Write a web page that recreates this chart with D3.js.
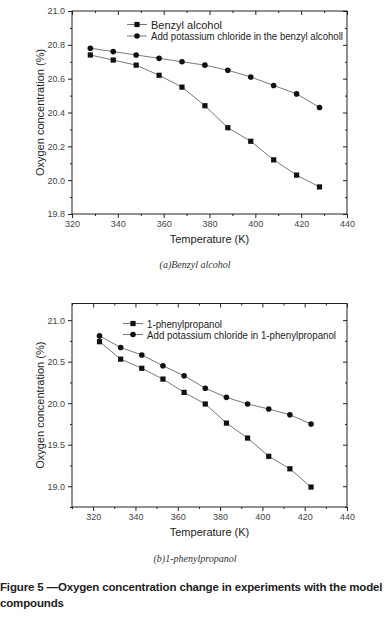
<!DOCTYPE html>
<html>
<head>
<meta charset="utf-8">
<script src="https://cdn.jsdelivr.net/npm/d3@7"></script>
<style>
  body { margin: 0; background: #fff; }
  svg { display: block; }
  text { font-family: "Liberation Sans", Arial, sans-serif; }
  .tick-label { font-size: 9px; fill: #444; }
  .axis-label { font-size: 11px; fill: #222; }
  .legend-text { font-size: 10.5px; fill: #222; }
  .caption { font-family: "Liberation Serif", "DejaVu Serif", serif; font-style: italic; font-size: 10px; fill: #333; }
  .fig-title { font-size: 11.5px; letter-spacing: -0.15px; font-weight: bold; fill: #222; }
</style>
</head>
<body>
<svg width="386" height="621"></svg>
<script>
// (a) benzyl alcohol
const tempA = [328, 338, 348, 358, 368, 378, 388, 398, 408, 418, 428];
const benzyl = [20.74, 20.71, 20.68, 20.62, 20.55, 20.44, 20.31, 20.23, 20.12, 20.03, 19.96];
const benzylKCl = [20.78, 20.76, 20.74, 20.72, 20.70, 20.68, 20.65, 20.61, 20.56, 20.51, 20.43];
const yTicksA = [19.8, 20.0, 20.2, 20.4, 20.6, 20.8, 21.0];
const xTicksA = [320, 340, 360, 380, 400, 420, 440];

// (b) 1-phenylpropanol
const tempB = [323, 333, 343, 353, 363, 373, 383, 393, 403, 413, 423];
const phenyl = [20.74, 20.53, 20.42, 20.29, 20.13, 19.99, 19.76, 19.58, 19.36, 19.21, 18.99];
const phenylKCl = [20.81, 20.67, 20.58, 20.45, 20.33, 20.18, 20.07, 19.99, 19.93, 19.86, 19.75];
const yTicksB = [19.0, 19.5, 20.0, 20.5, 21.0];
const xTicksB = [320, 340, 360, 380, 400, 420, 440];

const svg = d3.select('svg');

function drawPanel(opt) {
    const x = d3.scaleLinear().domain(opt.xDomain).range([opt.left, opt.right]);
    const y = d3.scaleLinear().domain(opt.yDomain).range([opt.bottom, opt.top]);
    const g = svg.append('g');
    const axisColor = '#222';

    // frame
    g.append('rect')
        .attr('x', opt.left).attr('y', opt.top)
        .attr('width', opt.right - opt.left).attr('height', opt.bottom - opt.top)
        .attr('fill', 'none').attr('stroke', axisColor).attr('stroke-width', 1);

    // bottom axis (ticks out) + top mirror (ticks in)
    const xMinor = d3.range(opt.xDomain[0], opt.xDomain[1] + 0.001, 10);
    const xb = d3.axisBottom(x).tickValues(opt.xTicks).tickSize(4).tickPadding(3).tickFormat(d3.format('d'));
    const xbG = g.append('g').attr('transform', `translate(0,${opt.bottom})`).call(xb);
    xbG.select('.domain').remove();
    xbG.selectAll('text').attr('class', 'tick-label');
    xbG.selectAll('line').attr('stroke', axisColor);
    const xbm = d3.axisBottom(x).tickValues(xMinor.filter(v => !opt.xTicks.includes(v))).tickSize(2).tickFormat('');
    g.append('g').attr('transform', `translate(0,${opt.bottom})`).call(xbm)
        .call(s => s.select('.domain').remove()).selectAll('line').attr('stroke', axisColor);
    const xt = d3.axisBottom(x).tickValues(opt.xTicks).tickSize(4).tickFormat('');
    g.append('g').attr('transform', `translate(0,${opt.top})`).call(xt)
        .call(s => s.select('.domain').remove()).selectAll('line').attr('stroke', axisColor);
    g.append('g').attr('transform', `translate(0,${opt.top})`).call(xbm)
        .call(s => s.select('.domain').remove()).selectAll('line').attr('stroke', axisColor);

    // left axis (ticks out) + right mirror (ticks in)
    const yl = d3.axisLeft(y).tickValues(opt.yTicks).tickSize(4).tickPadding(3).tickFormat(d3.format('.1f'));
    const ylG = g.append('g').attr('transform', `translate(${opt.left},0)`).call(yl);
    ylG.select('.domain').remove();
    ylG.selectAll('text').attr('class', 'tick-label');
    ylG.selectAll('line').attr('stroke', axisColor);
    const ylm = d3.axisLeft(y).tickValues(opt.yMinor).tickSize(2).tickFormat('');
    g.append('g').attr('transform', `translate(${opt.left},0)`).call(ylm)
        .call(s => s.select('.domain').remove()).selectAll('line').attr('stroke', axisColor);
    const yr = d3.axisLeft(y).tickValues(opt.yTicks).tickSize(4).tickFormat('');
    g.append('g').attr('transform', `translate(${opt.right},0)`).call(yr)
        .call(s => s.select('.domain').remove()).selectAll('line').attr('stroke', axisColor);
    const yrm = d3.axisLeft(y).tickValues(opt.yMinor).tickSize(2).tickFormat('');
    g.append('g').attr('transform', `translate(${opt.right},0)`).call(yrm)
        .call(s => s.select('.domain').remove()).selectAll('line').attr('stroke', axisColor);

    // axis labels
    g.append('text').attr('class', 'axis-label')
        .attr('x', (opt.left + opt.right) / 2).attr('y', opt.bottom + 29)
        .attr('text-anchor', 'middle').text('Temperature (K)');
    g.append('text').attr('class', 'axis-label')
        .attr('transform', `translate(${opt.left - 28},${(opt.top + opt.bottom) / 2}) rotate(-90)`)
        .attr('text-anchor', 'middle').text('Oxygen concentration (%)');

    // series
    const line = d3.line().x(d => x(d[0])).y(d => y(d[1]));
    opt.series.forEach(s => {
        const pts = opt.xs.map((t, i) => [t, s.values[i]]);
        g.append('path').datum(pts).attr('d', line)
            .attr('fill', 'none').attr('stroke', '#555').attr('stroke-width', 0.8);
        drawMarkers(g, pts.map(p => [x(p[0]), y(p[1])]), s.shape);
    });

    // legend
    opt.series.forEach((s, i) => {
        const ly = opt.legend.y + i * opt.legend.dy;
        g.append('line').attr('x1', opt.legend.x).attr('x2', opt.legend.x + 20)
            .attr('y1', ly).attr('y2', ly).attr('stroke', '#555').attr('stroke-width', 0.8);
        drawMarkers(g, [[opt.legend.x + 10, ly]], s.shape);
        g.append('text').attr('class', 'legend-text')
            .attr('x', opt.legend.x + 24).attr('y', ly + 4)
            .attr('textLength', s.width).attr('lengthAdjust', 'spacingAndGlyphs')
            .text(s.name);
    });

    // caption
    g.append('text').attr('class', 'caption')
        .attr('x', 195).attr('y', opt.captionY).attr('text-anchor', 'middle').text(opt.caption);
}

function drawMarkers(g, pts, shape) {
    if (shape === 'square') {
        g.selectAll(null).data(pts).enter().append('rect')
            .attr('x', d => d[0] - 2.6).attr('y', d => d[1] - 2.6)
            .attr('width', 5.2).attr('height', 5.2).attr('fill', '#111');
    } else {
        g.selectAll(null).data(pts).enter().append('circle')
            .attr('cx', d => d[0]).attr('cy', d => d[1]).attr('r', 2.8).attr('fill', '#111');
    }
}

drawPanel({
    left: 72, right: 347, top: 11, bottom: 214,
    xDomain: [320, 440], yDomain: [19.8, 21.0],
    xTicks: xTicksA, yTicks: yTicksA,
    yMinor: [19.9, 20.1, 20.3, 20.5, 20.7, 20.9],
    xs: tempA,
    series: [
        { name: 'Benzyl alcohol', values: benzyl, shape: 'square', width: 71 },
        { name: 'Add potassium chloride in the benzyl alcoholl', values: benzylKCl, shape: 'circle', width: 192 }
    ],
    legend: { x: 127, y: 24.5, dy: 11.5 },
    caption: '(a)Benzyl alcohol', captionY: 268
});

drawPanel({
    left: 72, right: 347, top: 303.5, bottom: 507,
    xDomain: [310, 440], yDomain: [18.75, 21.2],
    xTicks: xTicksB, yTicks: yTicksB,
    yMinor: [18.75, 19.25, 19.75, 20.25, 20.75],
    xs: tempB,
    series: [
        { name: '1-phenylpropanol', values: phenyl, shape: 'square', width: 75 },
        { name: 'Add potassium chloride in 1-phenylpropanol', values: phenylKCl, shape: 'circle', width: 189 }
    ],
    legend: { x: 123, y: 323.5, dy: 11 },
    caption: '(b)1-phenylpropanol', captionY: 562
});

// figure title
svg.append('text').attr('class', 'fig-title').attr('x', 0).attr('y', 591)
    .text('Figure 5 \u2014Oxygen concentration change in experiments with the model');
svg.append('text').attr('class', 'fig-title').attr('x', 0).attr('y', 607).text('compounds');
</script>
</body>
</html>
